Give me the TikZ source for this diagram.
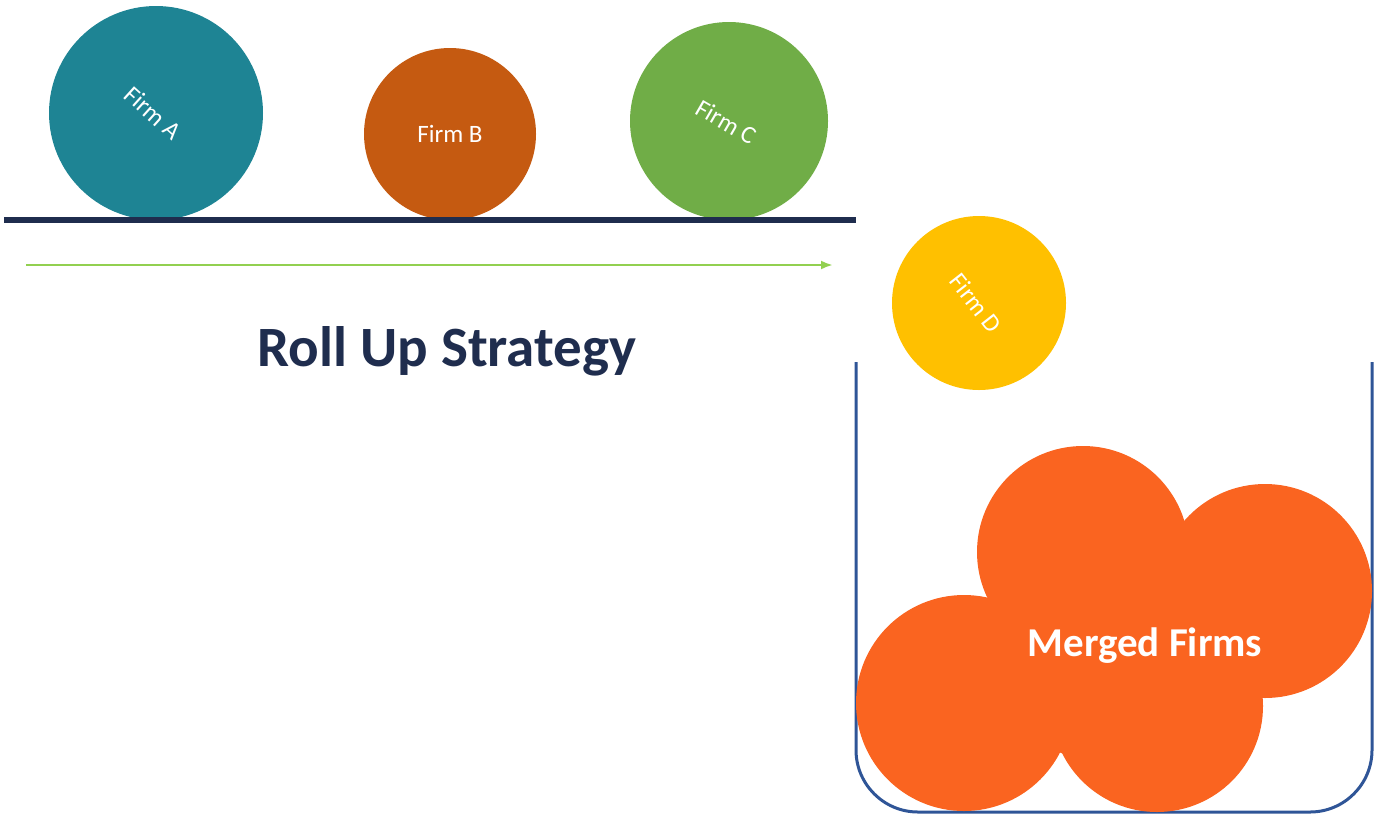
\documentclass[tikz,border=0pt]{standalone}
\usepackage{fontspec}
\setmainfont{Carlito}
\usetikzlibrary{arrows.meta}
\begin{document}
\begin{tikzpicture}[x=1pt,y=-1pt,
  firm/.style={inner sep=0pt,text=white,font=\fontsize{25}{27}\selectfont}]
\definecolor{teal}{HTML}{1E8494}
\definecolor{rust}{HTML}{C55A11}
\definecolor{grn}{HTML}{70AD47}
\definecolor{yel}{HTML}{FFC000}
\definecolor{mergeor}{HTML}{FA6420}
\definecolor{navy}{HTML}{1F2D4E}
\definecolor{jar}{HTML}{2F5597}
\definecolor{lgreen}{HTML}{92D050}
\useasboundingbox (0,0) rectangle (1388,823);
\fill[teal] (156,113) circle (107);
\fill[rust] (450,134) circle (86);
\fill[grn] (729,121) circle (99);
\fill[yel] (979,303) circle (87);
\node[firm,rotate=-42] (a) at (153,113) {Firm A};
\node[firm] (b) at (450,134) {Firm B};
\node[firm,rotate=-30] (c) at (726,122) {Firm C};
\node[firm,rotate=-52] (d) at (976,303) {Firm D};
\coordinate (l1) at (4,220); \coordinate (l2) at (856,220);
\draw[navy,line width=6] (l1) -- (l2);
\coordinate (r1) at (26,265); \coordinate (r2) at (833,265);
\draw[lgreen,line width=2.5,-{Latex[length=12,width=9]}] (r1) -- (r2);
\node[text=navy,font=\bfseries\fontsize{57}{60}\selectfont] (t) at (447,351) {Roll Up Strategy};
\draw[jar,line width=3,rounded corners=62] (856,362) -- (856,812) -- (1372,812) -- (1372,362);
\fill[mergeor] (1083,552) circle (106);
\fill[mergeor] (1265,591) circle (107);
\fill[mergeor] (964,703) circle (108);
\fill[mergeor] (1157,706) circle (106);
\fill[mergeor] (1100,650) circle (110);
\node[text=white,font=\bfseries\fontsize{41}{44}\selectfont] (m) at (1145,646) {Merged Firms};
\end{tikzpicture}
\end{document}
